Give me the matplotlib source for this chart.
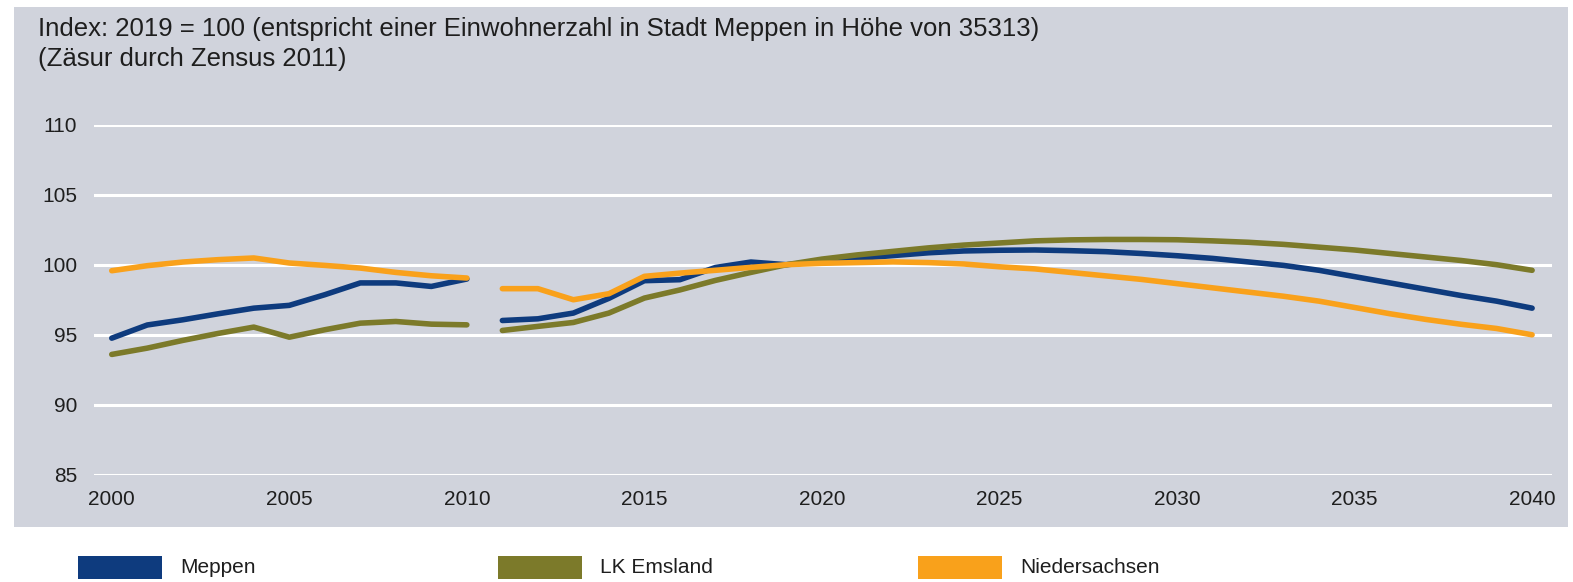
import matplotlib
matplotlib.use("Agg")
import matplotlib.pyplot as plt
from matplotlib.patches import Rectangle
import numpy as np

# ---------------- data ----------------
years_pre = list(range(2000, 2011))
years_post = list(range(2011, 2041))

meppen_pre = [94.76, 95.7, 96.07, 96.5, 96.9, 97.1, 97.86, 98.7, 98.7, 98.45, 98.98]
emsland_pre = [93.6, 94.05, 94.6, 95.1, 95.55, 94.83, 95.36, 95.83, 95.95, 95.76, 95.71]
nieders_pre = [99.57, 99.93, 100.19, 100.36, 100.48, 100.12, 99.95, 99.76, 99.45, 99.21, 99.05]

meppen_post = [96.02, 96.14, 96.55, 97.6, 98.86, 98.93, 99.8, 100.19,
               100.0, 100.25, 100.45, 100.65, 100.85, 100.98, 101.03, 101.05, 101.0,
               100.93, 100.8, 100.64, 100.45, 100.2, 99.95, 99.6, 99.15, 98.7,
               98.25, 97.8, 97.4, 96.9]
emsland_post = [95.31, 95.6, 95.88, 96.55, 97.62, 98.2, 98.88, 99.45,
                100.0, 100.4, 100.7, 100.95, 101.2, 101.4, 101.55, 101.7, 101.77,
                101.8, 101.8, 101.78, 101.7, 101.6, 101.45, 101.25, 101.05, 100.8,
                100.55, 100.3, 100.0, 99.6]
nieders_post = [98.29, 98.29, 97.5, 97.93, 99.17, 99.4, 99.6, 99.81,
                100.0, 100.1, 100.15, 100.2, 100.15, 100.05, 99.85, 99.7, 99.45,
                99.2, 98.95, 98.65, 98.35, 98.05, 97.75, 97.4, 96.95, 96.5,
                96.1, 95.75, 95.45, 95.0]

series_names = ["Meppen", "LK Emsland", "Niedersachsen"]
series_colors = ["#0E3B7E", "#7C7A2A", "#F9A11B"]

y_ticks = [85, 90, 95, 100, 105, 110]
x_ticks = [2000, 2005, 2010, 2015, 2020, 2025, 2030, 2035, 2040]

title_lines = ["Index: 2019 = 100 (entspricht einer Einwohnerzahl in Stadt Meppen in Höhe von 35313)",
               "(Zäsur durch Zensus 2011)"]

# ---------------- figure ----------------
W, H = 1573, 582
plt.rcParams['font.family'] = ['Liberation Sans', 'DejaVu Sans']
fig = plt.figure(figsize=(W / 100, H / 100), dpi=100)
fig.patch.set_facecolor("white")

bg = "#D0D3DC"
txt = "#1E1E1E"
# grey panel
fig.patches.append(Rectangle((14 / W, 1 - 527 / H), (1568 - 14) / W, (527 - 7) / H,
                             transform=fig.transFigure, facecolor=bg, edgecolor="none",
                             zorder=-10))

ax_left, ax_right = 94, 1552
ax_top, ax_bot = 124.5, 475
ax = fig.add_axes([ax_left / W, 1 - ax_bot / H, (ax_right - ax_left) / W, (ax_bot - ax_top) / H])
ax.set_facecolor("none")
ax.set_ylim(85, 110)
ax.set_xlim(1999.5, 2040.56)
for s in ax.spines.values():
    s.set_visible(False)
ax.set_yticks(y_ticks)
ax.set_xticks(x_ticks)
ax.grid(axis="y", color="white", linewidth=2.2)
ax.set_axisbelow(True)
ax.tick_params(length=0, labelsize=15, colors=txt)
ax.tick_params(axis="y", pad=12)
ax.tick_params(axis="x", pad=11)

pre = [meppen_pre, emsland_pre, nieders_pre]
post = [meppen_post, emsland_post, nieders_post]
for i in range(3):
    ax.plot(years_pre, pre[i], color=series_colors[i], lw=4, solid_capstyle="round",
            solid_joinstyle="round", clip_on=False, zorder=3)
    ax.plot(years_post, post[i], color=series_colors[i], lw=4, solid_capstyle="round",
            solid_joinstyle="round", clip_on=False, zorder=3)

fig.text(38 / W, 1 - 36 / H, title_lines[0], fontsize=18.5, color=txt, va="baseline", ha="left")
fig.text(38 / W, 1 - 66 / H, title_lines[1], fontsize=18.5, color=txt, va="baseline", ha="left")

# legend
leg_x = [78, 498, 918]
for i in range(3):
    fig.patches.append(Rectangle((leg_x[i] / W, 1 - 579 / H), 84 / W, 23 / H,
                                 transform=fig.transFigure, facecolor=series_colors[i],
                                 edgecolor="none"))
    fig.text((leg_x[i] + 102) / W, 1 - 573 / H, series_names[i], fontsize=15,
             color=txt, va="baseline", ha="left")

fig.savefig("out.png", dpi=100, facecolor="white")
